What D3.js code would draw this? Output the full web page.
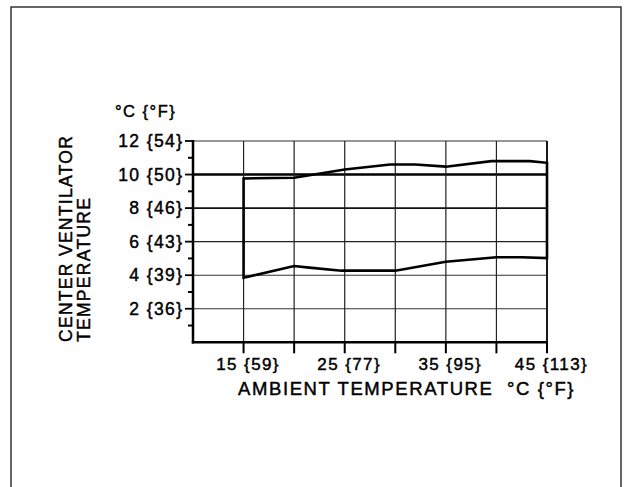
<!DOCTYPE html>
<html>
<head>
<meta charset="utf-8">
<script src="https://cdn.jsdelivr.net/npm/d3@7"></script>
<style>
  html, body { margin: 0; padding: 0; background: #fff; }
  svg { display: block; }
  text { font-family: "Liberation Sans", Arial, Helvetica, sans-serif; fill: #000; stroke: #000; stroke-width: 0.45px; white-space: pre; }
</style>
</head>
<body>
<svg id="chart" width="632" height="487"></svg>
<script>
// ---- data ----
const yTickValues = [2, 4, 6, 8, 10, 12];
const yTickLabels = ["2 {36}", "4 {39}", "6 {43}", "8 {46}", "10 {50}", "12 {54}"];
const yMinorTicks = [1, 3, 5, 7, 9, 11];
const xTickValues = [15, 25, 35, 45];
const xTickLabels = ["15 {59}", "25 {77}", "35 {95}", "45 {113}"];
const xGridValues = [15, 20, 25, 30, 35, 40, 45];
const upperX = [15, 20, 25, 29.5, 32, 35, 39.5, 43.3, 45];
const upperY = [9.77, 9.81, 10.3, 10.6, 10.6, 10.47, 10.8, 10.8, 10.7];
const lowerX = [15, 20, 21.5, 24.7, 30, 35, 40, 42.5, 45];
const lowerY = [3.85, 4.55, 4.45, 4.27, 4.27, 4.8, 5.07, 5.07, 5.02];
const yUnitLabel = "°C {°F}";
const yTitleLines = ["CENTER VENTILATOR", "TEMPERATURE"];
const xTitle = "AMBIENT TEMPERATURE  °C {°F}";

// ---- layout ----
const svg = d3.select("#chart");
const x = d3.scaleLinear().domain([10, 45]).range([193, 547]);
const y = d3.scaleLinear().domain([0, 12]).range([342.3, 141]);

// outer frame
svg.append("rect")
  .attr("x", 11).attr("y", 7).attr("width", 610).attr("height", 520)
  .attr("fill", "none").attr("stroke", "#333").attr("stroke-width", 1.5);

// horizontal grid lines
const hStyle = v => v === 10 ? [2.6, "#000"] : v === 8 ? [1.9, "#111"] : v === 6 ? [1.4, "#222"] : [1.1, "#333"];
svg.append("g").selectAll("line").data(yTickValues).join("line")
  .attr("x1", x(10)).attr("x2", x(45))
  .attr("y1", d => y(d)).attr("y2", d => y(d))
  .attr("stroke", d => hStyle(d)[1]).attr("stroke-width", d => hStyle(d)[0]);

// vertical grid lines
svg.append("g").selectAll("line").data(xGridValues).join("line")
  .attr("x1", d => x(d)).attr("x2", d => x(d))
  .attr("y1", y(12)).attr("y2", y(0))
  .attr("stroke", d => d === 45 ? "#000" : "#222")
  .attr("stroke-width", d => d === 45 ? 1.8 : 1.2);

// axes lines
svg.append("line").attr("x1", x(10)).attr("x2", x(10)).attr("y1", y(12) - 1).attr("y2", y(0) + 1.2)
  .attr("stroke", "#000").attr("stroke-width", 2.5);
svg.append("line").attr("x1", x(10) - 1.2).attr("x2", x(45) + 1).attr("y1", y(0)).attr("y2", y(0))
  .attr("stroke", "#000").attr("stroke-width", 2.5);

// y ticks
svg.append("g").selectAll("line").data(yTickValues).join("line")
  .attr("x1", x(10) - 8).attr("x2", x(10))
  .attr("y1", d => y(d)).attr("y2", d => y(d))
  .attr("stroke", "#000").attr("stroke-width", 1.8);
svg.append("g").selectAll("line").data(yMinorTicks).join("line")
  .attr("x1", x(10) - 5).attr("x2", x(10))
  .attr("y1", d => y(d)).attr("y2", d => y(d))
  .attr("stroke", "#000").attr("stroke-width", 2);

// x ticks
svg.append("g").selectAll("line").data(xGridValues).join("line")
  .attr("x1", d => x(d)).attr("x2", d => x(d))
  .attr("y1", y(0)).attr("y2", y(0) + 11)
  .attr("stroke", "#000").attr("stroke-width", 2);

// y tick labels
svg.append("g").selectAll("text").data(yTickValues).join("text")
  .attr("x", 183.5).attr("y", d => y(d) + 6)
  .attr("text-anchor", "end")
  .style("font-size", "17.5px").style("letter-spacing", "1.4px")
  .text((d, i) => yTickLabels[i]);

// x tick labels
svg.append("g").selectAll("text").data(xTickValues).join("text")
  .attr("x", d => x(d) + 4.5).attr("y", 369.5)
  .attr("text-anchor", "middle")
  .style("font-size", "17px").style("letter-spacing", "1.4px")
  .text((d, i) => xTickLabels[i]);

// unit label
svg.append("text").attr("x", 115).attr("y", 116.5)
  .style("font-size", "16.5px").style("letter-spacing", "1.5px")
  .text(yUnitLabel);

// y title
svg.append("g").selectAll("text").data(yTitleLines).join("text")
  .attr("transform", (d, i) => `translate(${71.5 + i * 18},342) rotate(-90)`)
  .style("font-size", "17.5px").style("letter-spacing", "1.3px")
  .text(d => d);

// x title
svg.append("text").attr("x", 238).attr("y", 395)
  .style("font-size", "18.5px").style("letter-spacing", "1.6px")
  .text(xTitle);

// envelope
const pts = lowerX.map((v, i) => [v, lowerY[i]])
  .concat(upperX.map((v, i) => [v, upperY[i]]).reverse());
const line = d3.line().x(d => x(d[0])).y(d => y(d[1]));
svg.append("path")
  .attr("d", line(pts) + "Z")
  .attr("fill", "none").attr("stroke", "#000")
  .attr("stroke-width", 2.6).attr("stroke-linejoin", "miter");
</script>
</body>
</html>
